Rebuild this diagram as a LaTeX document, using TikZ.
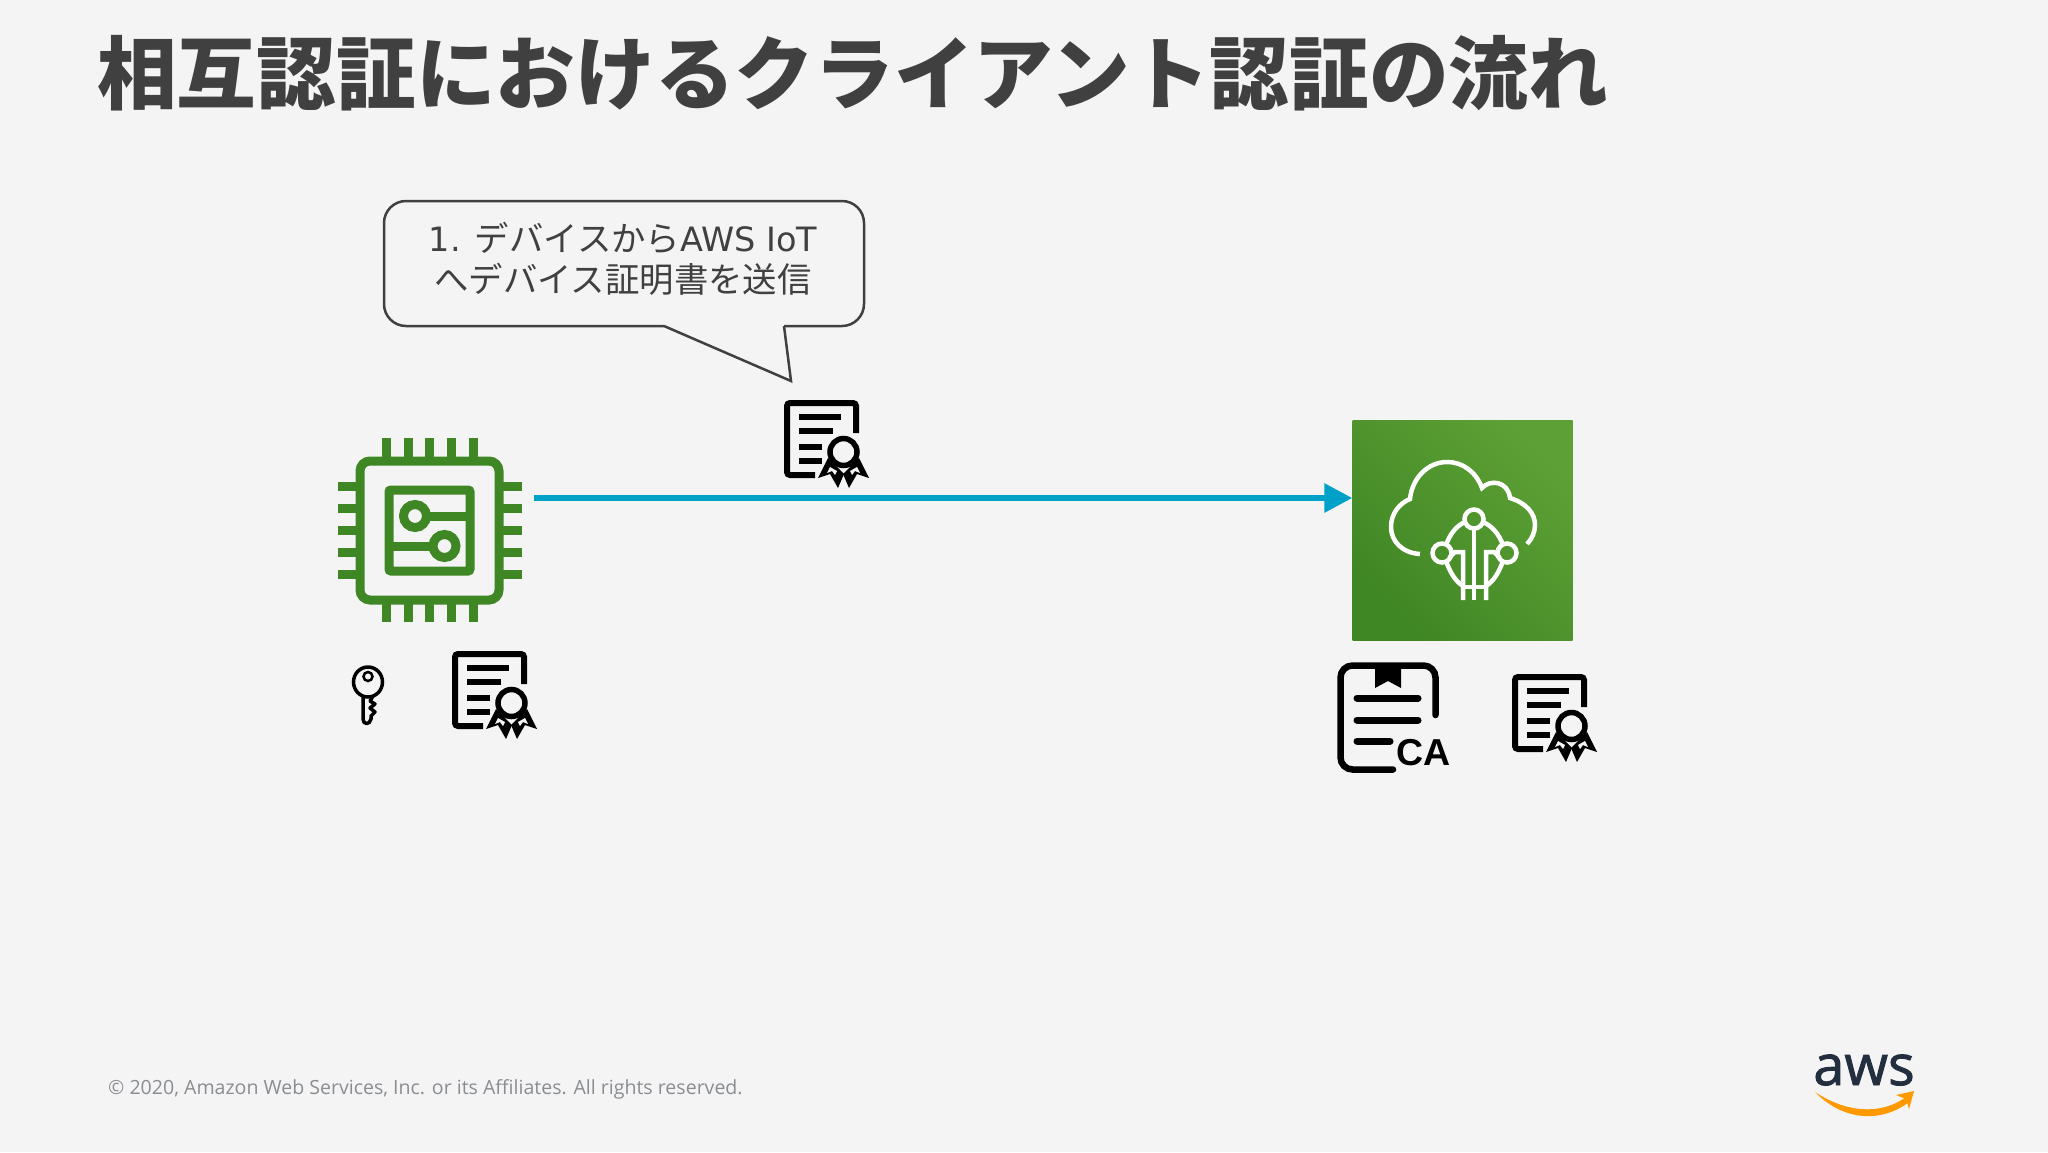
\documentclass[tikz,border=0pt]{standalone}
\usepackage{fontspec}
\setmainfont{Noto Sans CJK JP}
\newfontfamily\footfont{Open Sans}
\newfontfamily\logofont[FakeBold=1.6]{Open Sans}
\newfontfamily\capsfont{Liberation Sans}
\newfontfamily\notelatin{DejaVu Sans}
\usetikzlibrary{arrows.meta}
\definecolor{slidebg}{HTML}{F4F4F5}
\definecolor{slidetext}{HTML}{404040}
\definecolor{footgrey}{HTML}{8A8D91}
\definecolor{chipgreen}{HTML}{3F8624}
\definecolor{iotlight}{HTML}{5DA035}
\definecolor{sendblue}{HTML}{00A1C9}
\definecolor{awsdark}{HTML}{232F3E}
\definecolor{awsorange}{HTML}{FF9900}
\tikzset{
  chipline/.style={draw=chipgreen,line width=9pt},
  chipbox/.style={chipline,rounded corners=#1,inner sep=0pt},
  iotline/.style={draw=white,line width=4.5pt},
  iotbox/.style={inner sep=0pt,minimum size=220pt,bottom color=chipgreen,top color=iotlight,shading angle=-45},
  certline/.style={draw=black,line width=6pt},
  sendarrow/.style={draw=sendblue,line width=6pt,-{Triangle[length=28pt,width=28pt]}},
  pics/certicon/.style={code={
    \draw[certline,rounded corners=3pt] (72,33) -- (72,3) -- (3,3) -- (3,75) -- (31,75);
    \draw[certline] (15,17) -- (57,17);
    \draw[certline] (15,31) -- (49,31);
    \draw[certline] (15,47) -- (38,47);
    \draw[certline] (15,61) -- (38,61);
    \fill[black] (44,58) -- (34,78) -- (46,74) -- (54,88) -- (60,74) -- cycle;
    \fill[black] (75,58) -- (85,78) -- (73,74) -- (65,88) -- (59,74) -- cycle;
    \fill[slidebg] (46,67) -- (43,73) -- (48,71) -- (51,75) -- (53,71) -- cycle;
    \fill[slidebg] (73,67) -- (76,73) -- (71,71) -- (68,75) -- (66,71) -- cycle;
    \draw[certline,line width=5.5pt,fill=slidebg] (59.5,52) circle (13.5);
  }}
}
\begin{document}
\begin{tikzpicture}[x=1pt,y=-1pt]
\useasboundingbox (0,0) rectangle (2048,1152);
\fill[slidebg] (0,0) rectangle (2048,1152);
% title and footer
\node[anchor=west,inner sep=0pt,text=slidetext,font=\fontsize{79.7}{79.7}\selectfont\bfseries] (title) at (97,73) {相互認証におけるクライアント認証の流れ};
\node[anchor=west,inner sep=0pt,text=footgrey,font=\footfont\fontsize{19.55}{20}\selectfont] (footer) at (108,1089) {© 2020, Amazon Web Services, Inc. or its Affiliates. All rights reserved.};
% callout
\draw[draw=slidetext,line width=2.5pt,rounded corners=22pt] (664,326) -- (384,326) -- (384,201) -- (864,201) -- (864,326) -- (784,326);
\draw[draw=slidetext,line width=2.5pt,line join=miter] (664,326) -- (791,381) -- (784,326);
\node[align=center,inner sep=0pt,text=slidetext,font=\fontsize{34.4}{41}\selectfont] (sendnote) at (623,259) {{\notelatin\fontsize{33.5}{41}\selectfont 1. }デバイスから{\notelatin\fontsize{33.5}{41}\selectfont AWS IoT}\\へデバイス証明書を送信};
% device
\node[chipbox=10pt,minimum size=139pt] (chip) at (429.5,530.5) {};
\node[chipbox=2pt,minimum size=81pt] (board) at (429.5,530.5) {};
\foreach \k in {386,408,429.5,451,473} {
  \draw[chipline] (\k,438) -- (\k,457);
  \draw[chipline] (\k,604) -- (\k,622);
}
\foreach \k in {486,508,530,552,574} {
  \draw[chipline] (338,\k) -- (356,\k);
  \draw[chipline] (503,\k) -- (522,\k);
}
\draw[chipline] (415,516) circle (11.5);
\draw[chipline] (444.5,546) circle (11.5);
\draw[chipline] (426,516) -- (470,516);
\draw[chipline] (389,546) -- (433.5,546);
% key
\draw[draw=black,line width=3.5pt] (368,682) ellipse (14.5 and 15);
\draw[draw=black,line width=2.5pt] (368,676.5) circle (4.5);
\draw[draw=black,line width=3.5pt,line join=round] (363,696) -- (363,719) .. controls (363,725) and (370,725) .. (371,719) -- (371,716) -- (375,712) -- (370,708) -- (375,704) -- (370,701) -- (373,696);
\pic at (452,651) {certicon};
% message
\coordinate (sendstart) at (534,498);
\node[iotbox] (iot) at (1462.5,530.5) {};
\draw[sendarrow] (sendstart) -- (sendstart -| iot.west);
\pic at (784,400) {certicon};
% iot cloud
\draw[iotline] (1420,554) .. controls (1402,553) and (1391,541) .. (1391,527) .. controls (1391,513) and (1400,503) .. (1410,499) .. controls (1412,478) and (1428,462) .. (1447,462) .. controls (1463,462) and (1476,472) .. (1482,488) .. controls (1490,479) and (1508,481) .. (1510,498) .. controls (1526,503) and (1535,513) .. (1535,525) .. controls (1535,532) and (1532,539) .. (1527,544);
\draw[iotline] (1474,519) circle (9.5);
\draw[iotline] (1442,553) circle (9.5);
\draw[iotline] (1507,553) circle (9.5);
\draw[iotline] (1465,522) .. controls (1456,526) and (1450,534) .. (1446,545);
\draw[iotline] (1483,522) .. controls (1492,526) and (1499,534) .. (1503,545);
\draw[iotline] (1446,561) .. controls (1450,572) and (1455,581) .. (1463,586);
\draw[iotline] (1503,561) .. controls (1499,572) and (1494,581) .. (1486,586);
\draw[iotline] (1463,587) -- (1486,587);
\draw[iotline] (1474,528) -- (1474,600);
\draw[iotline] (1463,600) -- (1463,552) -- (1455,552) -- (1449,558);
\draw[iotline] (1486,600) -- (1486,552) -- (1494,552) -- (1500,558);
% ca certificate
\draw[draw=black,line width=6.5pt,line cap=round,rounded corners=12pt] (1435.5,715) -- (1435.5,665.5) -- (1340.5,665.5) -- (1340.5,769.5) -- (1393,769.5);
\fill[black] (1375,665) -- (1401,665) -- (1401,688) -- (1388,681) -- (1375,688) -- cycle;
\draw[draw=black,line width=7pt,line cap=round] (1357,698) -- (1418,698);
\draw[draw=black,line width=7pt,line cap=round] (1357,720) -- (1418,720);
\draw[draw=black,line width=7pt,line cap=round] (1357,741) -- (1390,741);
\node[anchor=base west,inner sep=0pt,font=\capsfont\bfseries\fontsize{37.5}{37.5}\selectfont] (calabel) at (1396,765) {CA};
\pic at (1512,674) {certicon};
% aws logo
\node[inner sep=0pt,text=awsdark,font=\logofont\fontsize{56}{56}\selectfont,anchor=base] (awslogo) at (1864,1085) {aws};
\fill[awsorange] (1815,1092) .. controls (1845,1112) and (1880,1116) .. (1906,1097) -- (1909,1102) .. controls (1880,1124) and (1842,1120) .. (1815,1092) -- cycle;
\fill[awsorange] (1896,1095) -- (1914,1091) -- (1909,1109) -- (1906,1099) -- cycle;
\end{tikzpicture}
\end{document}
